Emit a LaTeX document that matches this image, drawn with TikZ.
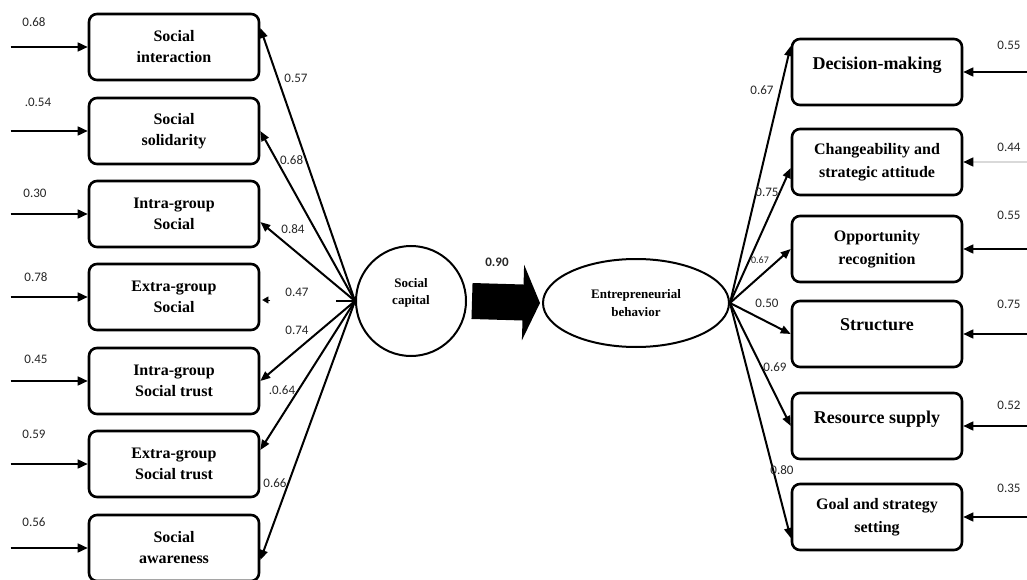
\documentclass[tikz,border=0pt]{standalone}
\usepackage{fontspec}
\setmainfont{Liberation Serif}
\newfontfamily\numfont{Carlito}
\usetikzlibrary{arrows.meta,positioning,shapes.geometric}

\begin{document}
\begin{tikzpicture}[
    x=1pt, y=-1pt,
    box/.style={draw, line width=2.6pt, rounded corners=8pt, minimum width=170pt, minimum height=66pt, align=center, inner sep=2pt, font=\bfseries\fontsize{16}{21}\selectfont},
    bigbox/.style={box, font=\bfseries\fontsize{18}{22}\selectfont, text depth=18pt},
    rbox/.style={box, font=\bfseries\fontsize{16}{23}\selectfont},
    lat/.style={draw, line width=2pt, align=center, inner sep=1pt},
    load/.style={-{Triangle[length=10pt,width=8pt]}, line width=2pt},
    err/.style={-{Triangle[length=10pt,width=9pt]}, line width=1.6pt},
    num/.style={font=\numfont\fontsize{13}{15}\selectfont, text=black!85, inner sep=0pt}
]
\useasboundingbox (0,0) rectangle (1027,580);

% latent variables
\node[lat, circle, minimum size=110pt, text depth=20pt, font=\bfseries\fontsize{13}{17}\selectfont] (sc) at (411,301) {Social\\capital};
\node[lat, ellipse, minimum width=186pt, minimum height=88pt, font=\bfseries\fontsize{13}{18}\selectfont] (eb) at (636,303) {Entrepreneurial\\behavior};
\draw[line width=36pt, -{Triangle[length=17pt,width=75pt]}] ([xshift=5pt]sc.east) -- ([xshift=-2pt]eb.west);
\node[num, font=\numfont\bfseries\fontsize{13}{15}\selectfont] at (497,262) {0.90};

% social capital indicators
\node[box] (si) at (174,47)  {Social\\interaction};
\node[box] (ss) at (174,131) {Social\\solidarity};
\node[box] (ig) at (174,214) {Intra-group\\Social};
\node[box] (eg) at (174,297) {Extra-group\\Social};
\node[box] (it) at (174,381) {Intra-group\\Social trust};
\node[box] (et) at (174,464) {Extra-group\\Social trust};
\node[box] (sa) at (174,548) {Social\\awareness};

\draw[load] (sc.west) -- ([yshift=19pt]si.east);
\draw[load] (sc.west) -- (ss.east);
\draw[load] (sc.west) -- ([yshift=-8pt]ig.east);
\draw[line width=2pt] (sc.west) -- ([xshift=-19pt]sc.west);
\draw[-{Triangle[length=6pt,width=7pt]}, line width=0.2pt] ([xshift=10pt,yshift=-3pt]eg.east) -- ([xshift=2pt,yshift=-3pt]eg.east);
\draw[load] (sc.west) -- (it.east);
\draw[load] (sc.west) -- ([yshift=14pt]et.east);
\draw[load] (sc.west) -- ([yshift=-12pt]sa.east);

\draw[err] ([xshift=-77pt]si.west) -- (si.west);
\draw[err] ([xshift=-77pt]ss.west) -- (ss.west);
\draw[err] ([xshift=-77pt]ig.west) -- (ig.west);
\draw[err] ([xshift=-77pt]eg.west) -- (eg.west);
\draw[err] ([xshift=-77pt]it.west) -- (it.west);
\draw[err] ([xshift=-77pt]et.west) -- (et.west);
\draw[err] ([xshift=-77pt]sa.west) -- (sa.west);

\node[num] at (34,22)  {0.68};
\node[num] at (38,102) {.0.54};
\node[num] at (35,193) {0.30};
\node[num] at (36,277) {0.78};
\node[num] at (36,359) {0.45};
\node[num] at (34,434) {0.59};
\node[num] at (34,522) {0.56};

\node[num] at (296,78)  {0.57};
\node[num] at (290,160) {.0.68};
\node[num] at (293,229) {0.84};
\node[num] at (297,292) {0.47};
\node[num] at (297,330) {0.74};
\node[num] at (282,390) {.0.64};
\node[num] at (275,483) {0.66};

% entrepreneurial behavior indicators
\node[bigbox] (dm) at (877,72)  {Decision-making};
\node[rbox]   (cs) at (877,162) {Changeability and\\strategic attitude};
\node[rbox]   (or) at (877,249) {Opportunity\\recognition};
\node[bigbox] (st) at (877,334) {Structure};
\node[bigbox] (rs) at (877,426) {Resource supply};
\node[rbox]   (gs) at (877,517) {Goal and strategy\\setting};

\draw[load] (eb.east) -- ([yshift=26pt]dm.west);
\draw[load] (eb.east) -- ([yshift=-6pt]cs.west);
\draw[load] (eb.east) -- (or.west);
\draw[load] (eb.east) -- (st.west);
\draw[load] (eb.east) -- (rs.west);
\draw[load] (eb.east) -- ([yshift=-21pt]gs.west);

\draw[err] ([xshift=64pt]dm.east) -- (dm.east);
\draw[err, draw=black!15, -{Triangle[length=10pt,width=9pt,black]}] ([xshift=64pt]cs.east) -- (cs.east);
\draw[err] ([xshift=64pt]or.east) -- (or.east);
\draw[err] ([xshift=64pt]st.east) -- (st.east);
\draw[err] ([xshift=64pt]rs.east) -- (rs.east);
\draw[err] ([xshift=64pt]gs.east) -- (gs.east);

\node[num] at (762,90)  {0.67};
\node[num] at (767,192) {0.75};
\node[num, font=\numfont\fontsize{10}{12}\selectfont] at (760,260) {0.67};
\node[num] at (767,303) {0.50};
\node[num] at (775,367) {0.69};
\node[num] at (782,470) {0.80};

\node[num] at (1009,45)  {0.55};
\node[num] at (1009,147) {0.44};
\node[num] at (1009,215) {0.55};
\node[num] at (1009,304) {0.75};
\node[num] at (1009,405) {0.52};
\node[num] at (1009,488) {0.35};
\end{tikzpicture}
\end{document}
